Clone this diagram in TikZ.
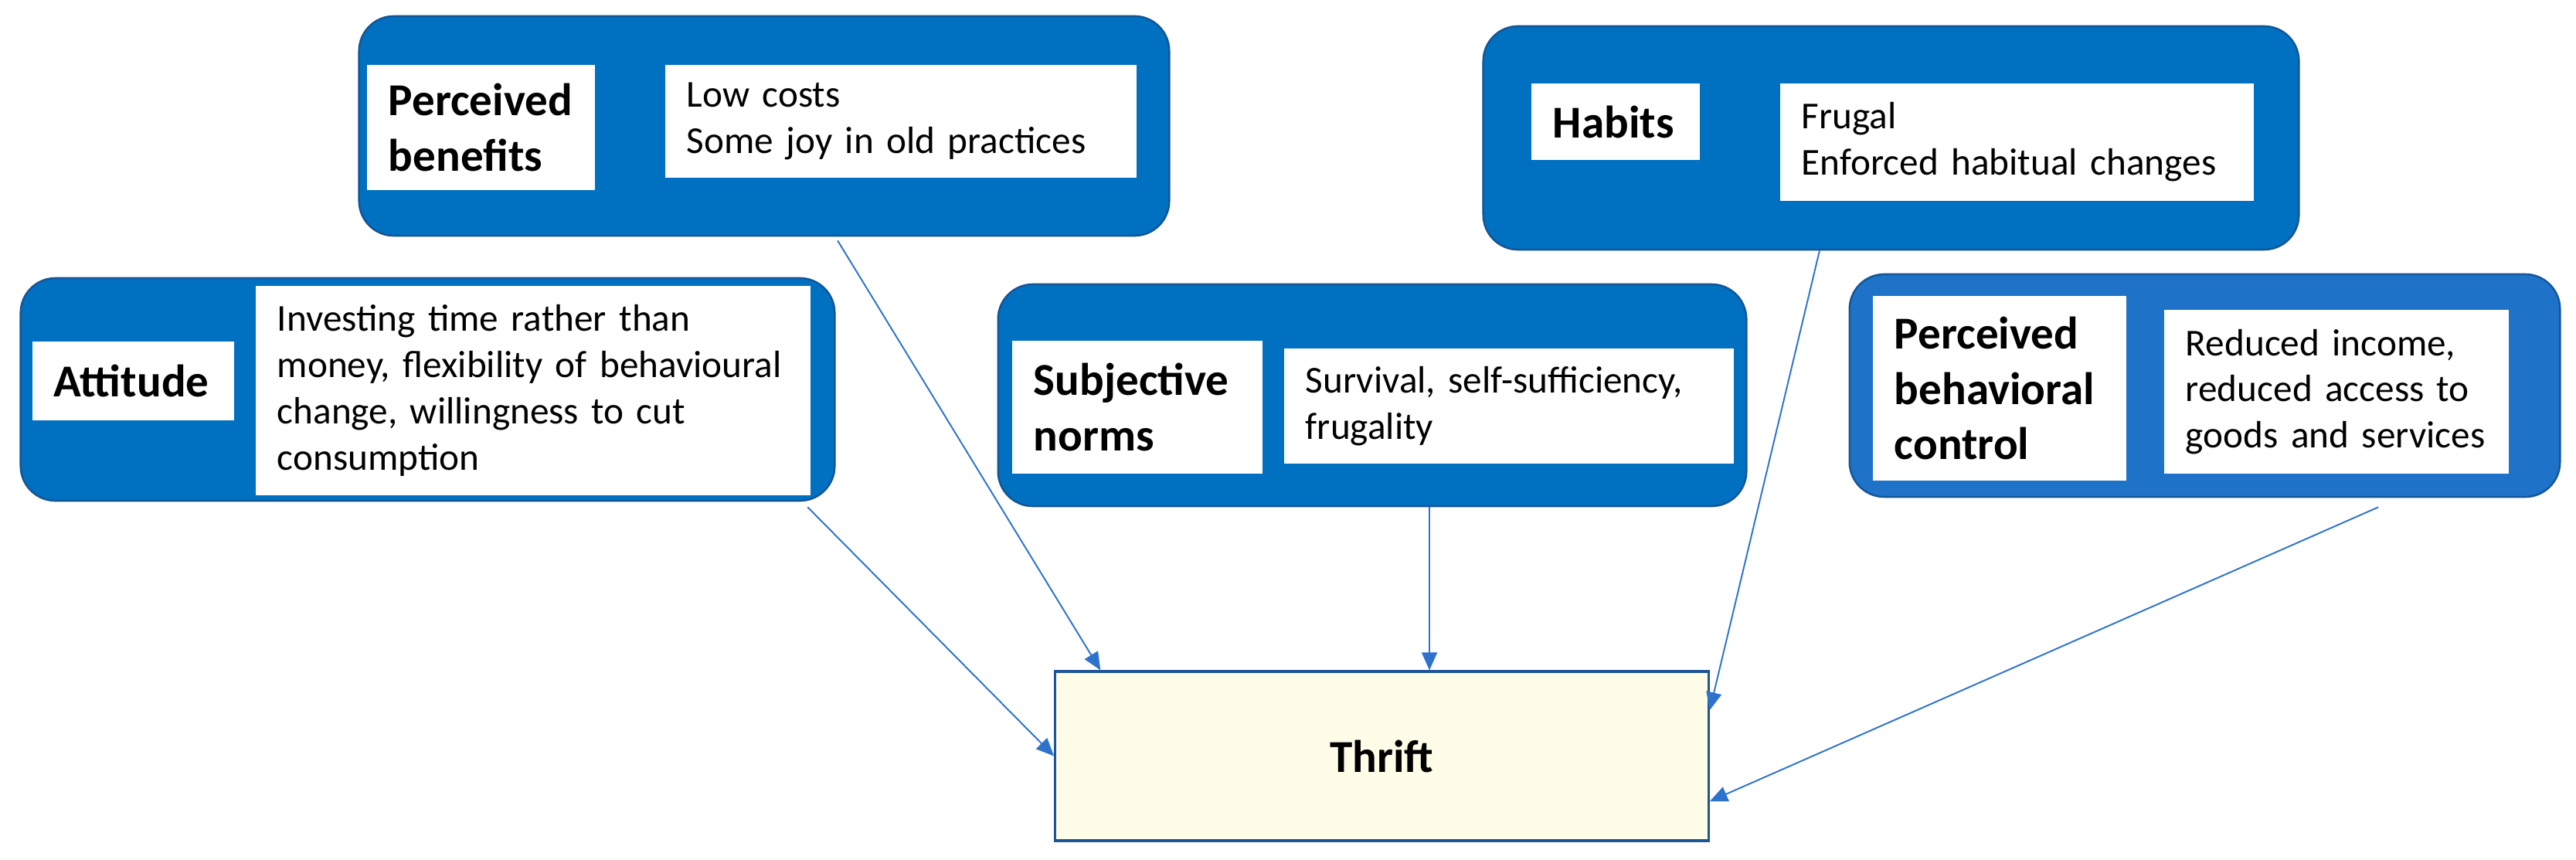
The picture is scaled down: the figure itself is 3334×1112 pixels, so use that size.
\documentclass[tikz,border=0pt]{standalone}
\usepackage{fontspec}
\setmainfont{Carlito}
\usetikzlibrary{arrows.meta,calc}
\definecolor{boxblue}{RGB}{0,112,192}
\definecolor{boxblueB}{RGB}{30,115,200}
\definecolor{boxedge}{RGB}{20,85,150}
\definecolor{arrowblue}{RGB}{45,115,205}
\definecolor{thriftfill}{RGB}{255,253,231}
\definecolor{thriftedge}{RGB}{30,85,150}
\hyphenpenalty=10000
\exhyphenpenalty=10000
\begin{document}
\begin{tikzpicture}[x=0.01cm,y=-0.01cm,
  outer/.style={draw=boxedge,line width=0.7pt,fill=boxblue,rounded corners=0.45cm,inner sep=0pt},
  lbl/.style={fill=white,inner xsep=0.28cm,inner ysep=0pt,align=left,
    font=\fontsize{16.8}{20.3}\selectfont\bfseries},
  txt/.style={fill=white,inner xsep=0.28cm,inner ysep=0pt,align=left,
    font=\fontsize{14}{17}\selectfont},
  conn/.style={draw=arrowblue,line width=0.55pt,-{Triangle[length=0.23cm,width=0.2cm]}}]
\useasboundingbox (0,0) rectangle (3334,1112);
\fill[white] (0,0) rectangle (3334,1112);

% Perceived benefits
\node[outer,minimum width=10.48cm,minimum height=2.84cm] (pb) at (989,163) {};
\node[lbl,minimum width=2.95cm,minimum height=1.62cm,text width=2.39cm] (pbl) at (622.5,165) {Perceived\\benefits};
\node[txt,minimum width=6.10cm,minimum height=1.45cm,text width=5.54cm] (pbt) at (1166,157) {Low costs\\Some joy in old practices};

% Attitude
\node[outer,minimum width=10.53cm,minimum height=2.88cm] (att) at (553.5,504) {};
\node[lbl,minimum width=2.61cm,minimum height=1.02cm,text width=2.05cm] (attl) at (172.5,493) {Attitude};
\node[txt,minimum width=7.18cm,minimum height=2.71cm,text width=6.62cm] (attt) at (690,505.5) {Investing time rather than\\money, flexibility of behavioural\\change, willingness to cut\\consumption};

% Subjective norms
\node[outer,minimum width=9.68cm,minimum height=2.87cm] (subj) at (1776,511.5) {};
\node[lbl,minimum width=3.24cm,minimum height=1.72cm,text width=2.68cm] (subjl) at (1472,527) {Subjective\\norms};
\node[txt,minimum width=5.82cm,minimum height=1.49cm,text width=5.26cm] (subjt) at (1953,525.5) {Survival, self-sufficiency,\\frugality};

% Habits
\node[outer,minimum width=10.55cm,minimum height=2.89cm] (hab) at (2447.5,178.5) {};
\node[lbl,minimum width=2.18cm,minimum height=0.99cm,text width=1.62cm] (habl) at (2091,157.5) {Habits};
\node[txt,minimum width=6.13cm,minimum height=1.52cm,text width=5.57cm] (habt) at (2610.5,184) {Frugal\\Enforced habitual changes};

% Perceived behavioral control
\node[outer,fill=boxblueB,minimum width=9.19cm,minimum height=2.88cm] (pbc) at (2853.5,499) {};
\node[lbl,minimum width=3.28cm,minimum height=2.39cm,text width=2.72cm] (pbcl) at (2588,502.5) {Perceived\\behavioral\\control};
\node[txt,minimum width=4.46cm,minimum height=2.12cm,text width=3.90cm] (pbct) at (3024,507) {Reduced~income,\\reduced~access~to\\goods~and~services};

% Thrift
\node[draw=thriftedge,line width=0.9pt,fill=thriftfill,minimum width=8.45cm,minimum height=2.19cm,
  font=\fontsize{16.8}{20.3}\selectfont\bfseries] (thrift) at (1788.5,978.5) {Thrift};

% connectors
\draw[conn] ([xshift=0.95cm,yshift=-0.05cm]pb.south) -- ([xshift=-3.64cm]thrift.north);
\draw[conn] ([xshift=4.915cm,yshift=-0.07cm]att.south) -- (thrift.west);
\draw[conn] ([xshift=0.74cm]subj.south) -- ([xshift=0.74cm]subj.south |- thrift.north);
\draw[conn] ([xshift=-0.925cm]hab.south) -- ([yshift=0.595cm]thrift.east);
\draw[conn] ([xshift=2.245cm,yshift=-0.12cm]pbc.south) -- ([yshift=-0.585cm]thrift.east);
\end{tikzpicture}
\end{document}
